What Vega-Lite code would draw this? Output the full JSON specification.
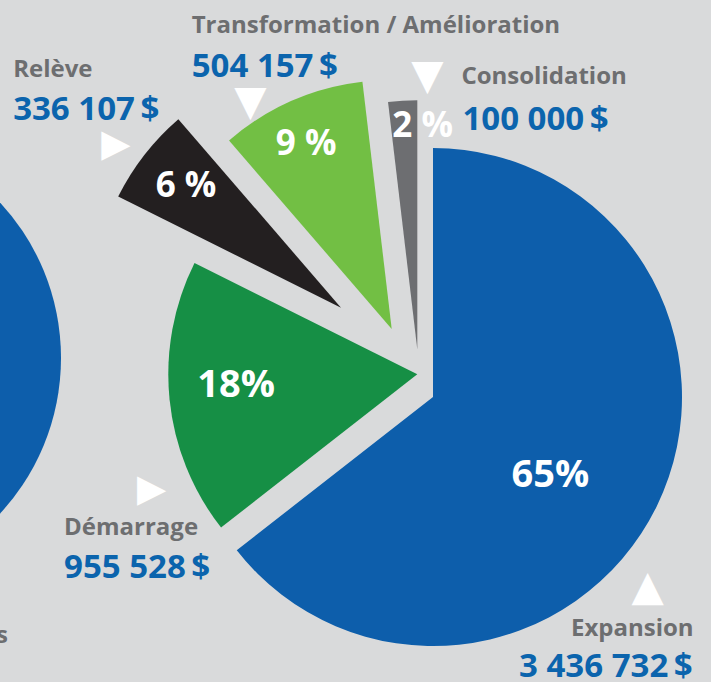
{
  "$schema": "https://vega.github.io/schema/vega-lite/v6.json",
  "width": 711,
  "height": 682,
  "padding": 0,
  "autosize": {"type": "none"},
  "background": "#d9dadb",
  "view": {"stroke": null},
  "config": {
    "locale": {"number": {"decimal": ",", "thousands": " ", "grouping": [3], "currency": ["", "\u2009$"]}},
    "text": {"font": "Open Sans", "fontWeight": "bold"}
  },
  "layer": [
    {
      "data": {"values": [{"piece": "autre graphique"}]},
      "mark": {"type": "arc", "theta": 0, "theta2": 6.2832, "radius": 229, "color": "#0d5eab", "xOffset": -523.5, "yOffset": 17},
      "encoding": {}
    },
    {
      "data": {"values": [{"piece": "filet"}]},
      "mark": {"type": "rule", "x": 155, "x2": 675, "y": 1.5, "strokeWidth": 3, "color": "#6d6e71"},
      "encoding": {}
    },
    {
      "data": {"values": [{"t": "s"}]},
      "mark": {"type": "text", "x": 8, "y": 643, "align": "right", "baseline": "alphabetic", "fontSize": 24, "color": "#6d6e70"},
      "encoding": {"text": {"field": "t"}}
    },
    {
      "data": {"values": [
        {"categorie": "Expansion", "montant": 3436732, "pct": "65%"},
        {"categorie": "Démarrage", "montant": 955528, "pct": "18%"},
        {"categorie": "Relève", "montant": 336107, "pct": "6 %"},
        {"categorie": "Transformation / Amélioration", "montant": 504157, "pct": "9 %"},
        {"categorie": "Consolidation", "montant": 100000, "pct": "2 %"}
      ]},
      "transform": [
        {"stack": "montant", "groupby": [], "offset": "normalize", "as": ["t0", "t1"]},
        {"calculate": "(datum.t0 + datum.t1) / 2", "as": "mid"}
      ],
      "layer": [
        {
          "transform": [{"filter": "datum.categorie === 'Expansion'"}],
          "layer": [
            {"mark": {"type": "arc", "radius": 249, "color": "#0d5eab", "xOffset": 77.5, "yOffset": 56},
             "encoding": {"theta": {"field": "t0", "type": "quantitative", "scale": {"domain": [0, 1], "range": [0, 6.2832]}, "stack": null}, "theta2": {"field": "t1"}}},
            {"mark": {"type": "text", "radius": 145, "xOffset": 77.5, "yOffset": 56, "dx": -13, "dy": 26, "align": "center", "baseline": "alphabetic", "fontSize": 38, "color": "white"},
             "encoding": {"theta": {"field": "mid", "type": "quantitative", "stack": null}, "text": {"field": "pct"}}},
            {"mark": {"type": "text", "radius": 300, "xOffset": 77.5, "yOffset": 56, "dx": -9, "dy": 107, "align": "right", "baseline": "alphabetic", "fontSize": 24, "color": "#6d6e70"},
             "encoding": {"theta": {"field": "mid", "type": "quantitative", "stack": null}, "text": {"field": "categorie"}}},
            {"mark": {"type": "text", "radius": 300, "xOffset": 77.5, "yOffset": 56, "dx": -10, "dy": 148, "align": "right", "baseline": "alphabetic", "fontSize": 33, "color": "#0b64ad"},
             "encoding": {"theta": {"field": "mid", "type": "quantitative", "stack": null}, "text": {"field": "montant", "type": "quantitative", "format": "$,.0f"}}},
            {"mark": {"type": "text", "radius": 260, "xOffset": 77.5, "yOffset": 56, "dx": -19, "dy": 76, "align": "center", "baseline": "middle", "font": "DejaVu Sans", "fontWeight": "normal", "fontSize": 42, "color": "white", "text": "▲"},
             "encoding": {"theta": {"field": "mid", "type": "quantitative", "stack": null}}}
          ]
        },
        {
          "transform": [{"filter": "datum.categorie === 'Démarrage'"}],
          "layer": [
            {"mark": {"type": "arc", "radius": 249, "color": "#168f45", "xOffset": 61.8, "yOffset": 33.3},
             "encoding": {"theta": {"field": "t0", "type": "quantitative", "scale": {"domain": [0, 1], "range": [0, 6.2832]}, "stack": null}, "theta2": {"field": "t1"}}},
            {"mark": {"type": "text", "radius": 180, "xOffset": 61.8, "yOffset": 33.3, "dx": -2, "dy": 5, "align": "center", "baseline": "alphabetic", "fontSize": 38, "color": "white"},
             "encoding": {"theta": {"field": "mid", "type": "quantitative", "stack": null}, "text": {"field": "pct"}}},
            {"mark": {"type": "text", "radius": 350, "xOffset": 61.8, "yOffset": 33.3, "dx": -5, "dy": 126, "align": "left", "baseline": "alphabetic", "fontSize": 24, "color": "#6d6e70"},
             "encoding": {"theta": {"field": "mid", "type": "quantitative", "stack": null}, "text": {"field": "categorie"}}},
            {"mark": {"type": "text", "radius": 350, "xOffset": 61.8, "yOffset": 33.3, "dx": -5, "dy": 169, "align": "left", "baseline": "alphabetic", "fontSize": 33, "color": "#0b64ad"},
             "encoding": {"theta": {"field": "mid", "type": "quantitative", "stack": null}, "text": {"field": "montant", "type": "quantitative", "format": "$,.0f"}}},
            {"mark": {"type": "text", "radius": 260, "xOffset": 61.8, "yOffset": 33.3, "dx": -7, "dy": 90, "align": "center", "baseline": "middle", "font": "DejaVu Sans", "fontWeight": "normal", "fontSize": 38, "color": "white", "text": "▶"},
             "encoding": {"theta": {"field": "mid", "type": "quantitative", "stack": null}}}
          ]
        },
        {
          "transform": [{"filter": "datum.categorie === 'Relève'"}],
          "layer": [
            {"mark": {"type": "arc", "radius": 249, "color": "#231f20", "xOffset": -14.5, "yOffset": -33.3},
             "encoding": {"theta": {"field": "t0", "type": "quantitative", "scale": {"domain": [0, 1], "range": [0, 6.2832]}, "stack": null}, "theta2": {"field": "t1"}}},
            {"mark": {"type": "text", "radius": 185, "xOffset": -14.5, "yOffset": -33.3, "dx": -9, "dy": 3, "align": "center", "baseline": "alphabetic", "fontSize": 35, "color": "white"},
             "encoding": {"theta": {"field": "mid", "type": "quantitative", "stack": null}, "text": {"field": "pct"}}},
            {"mark": {"type": "text", "radius": 390, "xOffset": -14.5, "yOffset": -33.3, "dx": -20, "dy": 9, "align": "left", "baseline": "alphabetic", "fontSize": 24, "color": "#6d6e70"},
             "encoding": {"theta": {"field": "mid", "type": "quantitative", "stack": null}, "text": {"field": "categorie"}}},
            {"mark": {"type": "text", "radius": 390, "xOffset": -14.5, "yOffset": -33.3, "dx": -20, "dy": 52, "align": "left", "baseline": "alphabetic", "fontSize": 33, "color": "#0b64ad"},
             "encoding": {"theta": {"field": "mid", "type": "quantitative", "stack": null}, "text": {"field": "montant", "type": "quantitative", "format": "$,.0f"}}},
            {"mark": {"type": "text", "radius": 270, "xOffset": -14.5, "yOffset": -33.3, "dx": -12, "dy": 3, "align": "center", "baseline": "middle", "font": "DejaVu Sans", "fontWeight": "normal", "fontSize": 38, "color": "white", "text": "▶"},
             "encoding": {"theta": {"field": "mid", "type": "quantitative", "stack": null}}}
          ]
        },
        {
          "transform": [{"filter": "datum.categorie === 'Transformation / Amélioration'"}],
          "layer": [
            {"mark": {"type": "arc", "radius": 249, "color": "#72bf44", "xOffset": 36.2, "yOffset": -12},
             "encoding": {"theta": {"field": "t0", "type": "quantitative", "scale": {"domain": [0, 1], "range": [0, 6.2832]}, "stack": null}, "theta2": {"field": "t1"}}},
            {"mark": {"type": "text", "radius": 195, "xOffset": 36.2, "yOffset": -12, "dx": -7, "dy": 4.5, "align": "center", "baseline": "alphabetic", "fontSize": 35, "color": "white"},
             "encoding": {"theta": {"field": "mid", "type": "quantitative", "stack": null}, "text": {"field": "pct"}}},
            {"mark": {"type": "text", "radius": 330, "xOffset": 36.2, "yOffset": -12, "dx": -67, "dy": 6, "align": "left", "baseline": "alphabetic", "fontSize": 24, "color": "#6d6e70"},
             "encoding": {"theta": {"field": "mid", "type": "quantitative", "stack": null}, "text": {"field": "categorie"}}},
            {"mark": {"type": "text", "radius": 330, "xOffset": 36.2, "yOffset": -12, "dx": -67, "dy": 50, "align": "left", "baseline": "alphabetic", "fontSize": 33, "color": "#0b64ad"},
             "encoding": {"theta": {"field": "mid", "type": "quantitative", "stack": null}, "text": {"field": "montant", "type": "quantitative", "format": "$,.0f"}}},
            {"mark": {"type": "text", "radius": 245, "xOffset": 36.2, "yOffset": -12, "dx": -42.5, "dy": -3, "align": "center", "baseline": "middle", "font": "DejaVu Sans", "fontWeight": "normal", "fontSize": 42, "color": "white", "text": "▼"},
             "encoding": {"theta": {"field": "mid", "type": "quantitative", "stack": null}}}
          ]
        },
        {
          "transform": [{"filter": "datum.categorie === 'Consolidation'"}],
          "layer": [
            {"mark": {"type": "arc", "radius": 249, "color": "#6d6e71", "xOffset": 61.8, "yOffset": 8.3},
             "encoding": {"theta": {"field": "t0", "type": "quantitative", "scale": {"domain": [0, 1], "range": [0, 6.2832]}, "stack": null}, "theta2": {"field": "t1"}}},
            {"mark": {"type": "text", "radius": 215, "xOffset": 61.8, "yOffset": 8.3, "dx": 18, "dy": 2, "align": "center", "baseline": "alphabetic", "fontSize": 35, "color": "white"},
             "encoding": {"theta": {"field": "mid", "type": "quantitative", "stack": null}, "text": {"field": "pct"}}},
            {"mark": {"type": "text", "radius": 270, "xOffset": 61.8, "yOffset": 8.3, "dx": 60, "dy": 4, "align": "left", "baseline": "alphabetic", "fontSize": 24, "color": "#6d6e70"},
             "encoding": {"theta": {"field": "mid", "type": "quantitative", "stack": null}, "text": {"field": "categorie"}}},
            {"mark": {"type": "text", "radius": 270, "xOffset": 61.8, "yOffset": 8.3, "dx": 61, "dy": 50, "align": "left", "baseline": "alphabetic", "fontSize": 33, "color": "#0b64ad"},
             "encoding": {"theta": {"field": "mid", "type": "quantitative", "stack": null}, "text": {"field": "montant", "type": "quantitative", "format": "$,.0f"}}},
            {"mark": {"type": "text", "radius": 270, "xOffset": 61.8, "yOffset": 8.3, "dx": 26, "dy": -4, "align": "center", "baseline": "middle", "font": "DejaVu Sans", "fontWeight": "normal", "fontSize": 42, "color": "white", "text": "▼"},
             "encoding": {"theta": {"field": "mid", "type": "quantitative", "stack": null}}}
          ]
        }
      ]
    }
  ]
}
